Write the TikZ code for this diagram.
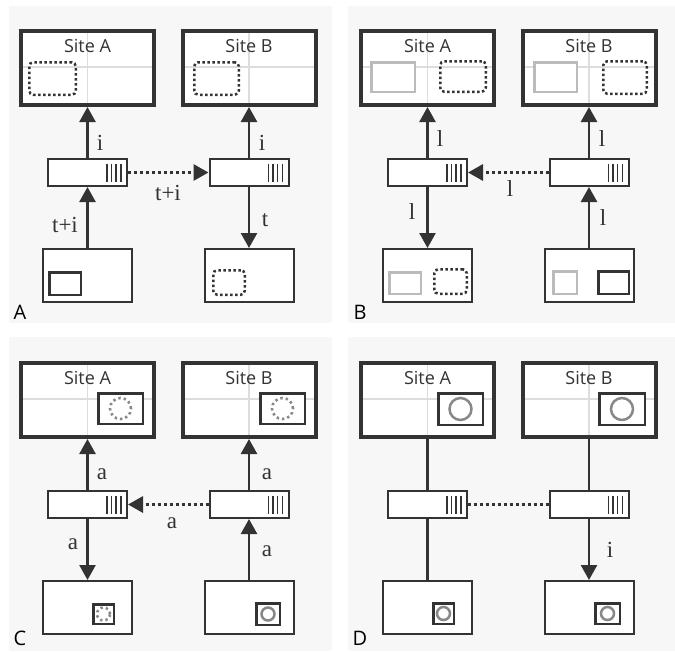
\documentclass[tikz,border=0pt]{standalone}
\usepackage{fontspec}
\setmainfont{Liberation Serif}
\newfontfamily\sitefont{Open Sans}
\usetikzlibrary{arrows.meta}
\definecolor{ink}{HTML}{333333}
\definecolor{panelbg}{HTML}{F7F7F7}
\definecolor{gridc}{HTML}{DDDDDD}
\definecolor{ghost}{HTML}{BBBBBB}
\definecolor{ring}{HTML}{888888}
\tikzset{
  screen/.style={draw=ink, fill=white, line width=4pt, minimum width=133pt, minimum height=74pt, inner sep=0pt,
    path picture={\draw[gridc, line width=1.5pt] (path picture bounding box.north) -- (path picture bounding box.south);
      \draw[gridc, line width=1.5pt] ([yshift=1pt]path picture bounding box.west) -- ([yshift=1pt]path picture bounding box.east);}},
  device/.style={draw=ink, fill=white, line width=2pt, minimum width=79pt, minimum height=27pt, inner sep=0pt,
    path picture={\foreach \dx in {20,15.5,11,6}{\draw[ink, line width=1.5pt] ([xshift=-\dx pt, yshift=9pt]path picture bounding box.east) -- ([xshift=-\dx pt, yshift=-9pt]path picture bounding box.east);}}},
  client/.style={draw=ink, fill=white, line width=2pt, minimum width=89pt, minimum height=53pt, inner sep=0pt},
  tip/.style={-{Triangle[length=15pt,width=16pt]}},
  conn/.style={draw=ink, line width=2.5pt, tip},
  plainconn/.style={draw=ink, line width=2.5pt},
  dotconn/.style={draw=ink, line width=3pt, dash pattern=on 3pt off 3pt},
  lbl/.style={font=\fontsize{23}{23}\selectfont, text=ink, inner sep=0pt},
  sitelbl/.style={font=\sitefont\fontsize{18}{18}\selectfont, text=ink, inner sep=0pt},
  panellbl/.style={font=\sitefont\fontsize{20}{20}\selectfont, text=black, inner sep=0pt},
  dotbox/.style={draw=ink, line width=2.5pt, dash pattern=on 2.5pt off 2.5pt, rounded corners=4pt, inner sep=0pt},
  ghostbox/.style={draw=ghost, line width=2.5pt, fill=white, inner sep=0pt},
  winbox/.style={draw=ink, line width=2.5pt, fill=white, inner sep=0pt},
  ringnode/.style={circle, draw=ring, line width=2.5pt, inner sep=0pt},
  dotring/.style={circle, draw=ring, line width=2.6pt, dash pattern=on 2.4pt off 3pt, inner sep=0pt},
}
\newcommand\basepanel[3]{%
  \node[screen] (#1s1) at (87.5,68) {};
  \node[screen] (#1s2) at (249,68) {};
  \node[sitelbl] (#1t1) at (87.5,46) {Site A};
  \node[sitelbl] (#1t2) at (249,46) {Site B};
  \node[device] (#1d1) at (87.5,172.5) {};
  \node[device] (#1d2) at (249,172.5) {};
  \node[client] (#1c1) at (87.5,275.5) {};
  \node[client] (#1c2) at (249,275.5) {};
  \node[panellbl] (#1L) at (20,#3) {#2};
}
\begin{document}
\begin{tikzpicture}[x=1pt,y=-1pt]
\fill[white] (0,0) rectangle (675,651);
\useasboundingbox (0,0) rectangle (675,651);
\fill[panelbg] (9,6) rectangle (332,323);
\fill[panelbg] (348,6) rectangle (675,323);
\fill[panelbg] (9,337) rectangle (332,651);
\fill[panelbg] (348,337) rectangle (675,651);

% ---------- Panel A ----------
\begin{scope}[shift={(0,0)}]
  \basepanel{A}{A}{312}
  \node[dotbox, minimum width=46.5pt, minimum height=32.5pt] (Aw1) at (52.5,78.5) {};
  \node[dotbox, minimum width=44.5pt, minimum height=32.5pt] (Aw2) at (216.5,78.5) {};
  \node[winbox, minimum width=31.5pt, minimum height=22.5pt] (Aw3) at (65,283.5) {};
  \node[dotbox, minimum width=31.5pt, minimum height=24.5pt] (Aw4) at (229,282.5) {};
  \draw[conn] (Ad1) -- (As1);
  \draw[conn] (Ac1) -- (Ad1);
  \draw[dotconn, tip] (Ad1) -- (Ad2);
  \draw[conn] (Ad2) -- (As2);
  \draw[conn] (Ad2) -- (Ac2);
  \node[lbl] (Al1) at (100,143) {i};
  \node[lbl] (Al2) at (65,225) {t+i};
  \node[lbl] (Al3) at (168,193) {t+i};
  \node[lbl] (Al4) at (262,143) {i};
  \node[lbl] (Al5) at (265,220) {t};
\end{scope}

% ---------- Panel B ----------
\begin{scope}[shift={(340,0)}]
  \basepanel{B}{B}{312}
  \node[ghostbox, minimum width=43.5pt, minimum height=29.5pt] (Bw1) at (53,77) {};
  \node[dotbox, minimum width=45.5pt, minimum height=30.5pt] (Bw2) at (123,76.5) {};
  \node[ghostbox, minimum width=42.5pt, minimum height=29.5pt] (Bw3) at (215.5,77) {};
  \node[dotbox, minimum width=43.5pt, minimum height=32.5pt] (Bw4) at (285,77.5) {};
  \node[ghostbox, minimum width=31.5pt, minimum height=21.5pt] (Bw5) at (65,283) {};
  \node[dotbox, minimum width=32.5pt, minimum height=24.5pt] (Bw6) at (110.5,281.5) {};
  \node[ghostbox, minimum width=23.5pt, minimum height=22.5pt] (Bw7) at (225,282.5) {};
  \node[winbox, minimum width=30.5pt, minimum height=22.5pt] (Bw8) at (273.5,282.5) {};
  \draw[conn] (Bd1) -- (Bs1);
  \draw[conn] (Bd2) -- (Bs2);
  \draw[dotconn, tip] (Bd2) -- (Bd1);
  \draw[conn] (Bd1) -- (Bc1);
  \draw[conn] (Bc2) -- (Bd2);
  \node[lbl] (Bl1) at (100,139) {l};
  \node[lbl] (Bl2) at (262,139) {l};
  \node[lbl] (Bl3) at (170,189) {l};
  \node[lbl] (Bl4) at (72,212) {l};
  \node[lbl] (Bl5) at (263,218) {l};
\end{scope}

% ---------- Panel C ----------
\begin{scope}[shift={(0,332)}]
  \basepanel{C}{C}{306}
  \node[winbox, minimum width=44.5pt, minimum height=30.5pt] (Cw1) at (120.5,76.5) {};
  \node[dotring, minimum size=21pt] (Cr1) at (Cw1.center) {};
  \node[winbox, minimum width=44.5pt, minimum height=30.5pt] (Cw2) at (282.5,76.5) {};
  \node[dotring, minimum size=21pt] (Cr2) at (Cw2.center) {};
  \node[winbox, minimum width=20.5pt, minimum height=19.5pt] (Cw3) at (103.5,282) {};
  \node[dotring, minimum size=13pt] (Cr3) at (Cw3.center) {};
  \node[winbox, minimum width=23.5pt, minimum height=21.5pt] (Cw4) at (268,282) {};
  \node[ringnode, minimum size=13pt] (Cr4) at (Cw4.center) {};
  \draw[conn] (Cd1) -- (Cs1);
  \draw[conn] (Cd2) -- (Cs2);
  \draw[dotconn, tip] (Cd2) -- (Cd1);
  \draw[conn] (Cd1) -- (Cc1);
  \draw[conn] (Cc2) -- (Cd2);
  \node[lbl] (Cl1) at (102,142) {a};
  \node[lbl] (Cl2) at (267,142) {a};
  \node[lbl] (Cl3) at (172,191) {a};
  \node[lbl] (Cl4) at (73,212) {a};
  \node[lbl] (Cl5) at (267,219) {a};
\end{scope}

% ---------- Panel D ----------
\begin{scope}[shift={(340,332)}]
  \basepanel{D}{D}{306}
  \node[winbox, minimum width=44.5pt, minimum height=31.5pt] (Dw1) at (120.5,77) {};
  \node[ringnode, minimum size=22pt] (Dr1) at (Dw1.center) {};
  \node[winbox, minimum width=45.5pt, minimum height=31.5pt] (Dw2) at (282,77) {};
  \node[ringnode, minimum size=22pt] (Dr2) at (Dw2.center) {};
  \node[winbox, minimum width=20.5pt, minimum height=20.5pt] (Dw3) at (103.5,281.5) {};
  \node[ringnode, minimum size=13pt] (Dr3) at (Dw3.center) {};
  \node[winbox, minimum width=24.5pt, minimum height=20.5pt] (Dw4) at (267.5,281.5) {};
  \node[ringnode, minimum size=13pt] (Dr4) at (Dw4.center) {};
  \draw[plainconn] (Dd1) -- (Ds1);
  \draw[plainconn] (Dd1) -- (Dc1);
  \draw[plainconn] (Dd2) -- (Ds2);
  \draw[dotconn] (Dd1) -- (Dd2);
  \draw[conn] (Dd2) -- (Dc2);
  \node[lbl] (Dl1) at (270,218) {i};
\end{scope}
\end{tikzpicture}
\end{document}
